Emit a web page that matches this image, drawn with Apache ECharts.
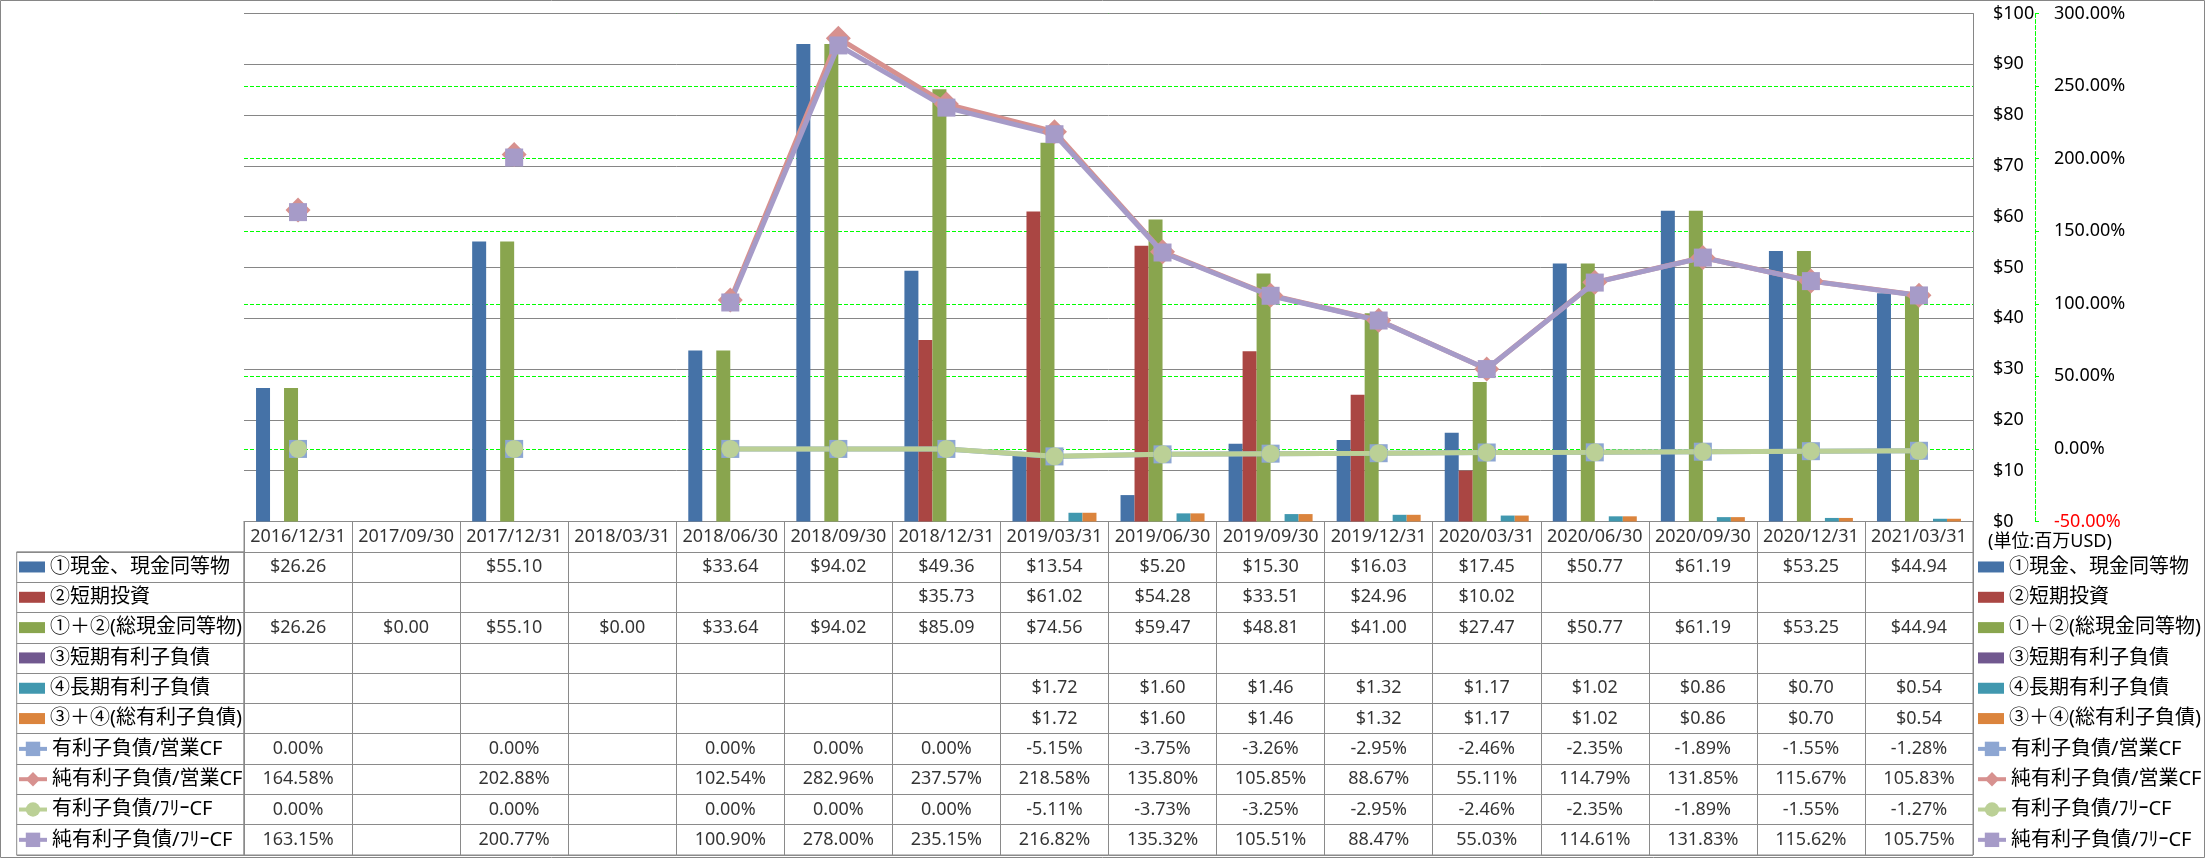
<!DOCTYPE html>
<html><head><meta charset="utf-8">
<script src="https://cdn.jsdelivr.net/npm/echarts@6/dist/echarts.min.js"></script>
<style>html,body{margin:0;padding:0;background:#fff}#c{width:2205px;height:858px}</style>
</head><body><div id="c"></div>
<script>
const categories = ['2016/12/31','2017/09/30','2017/12/31','2018/03/31','2018/06/30','2018/09/30','2018/12/31','2019/03/31','2019/06/30','2019/09/30','2019/12/31','2020/03/31','2020/06/30','2020/09/30','2020/12/31','2021/03/31'];
const cash       = [26.26, null, 55.10, null, 33.64, 94.02, 49.36, 13.54, 5.20, 15.30, 16.03, 17.45, 50.77, 61.19, 53.25, 44.94];
const shortInv   = [null, null, null, null, null, null, 35.73, 61.02, 54.28, 33.51, 24.96, 10.02, null, null, null, null];
const totalCash  = [26.26, 0, 55.10, 0, 33.64, 94.02, 85.09, 74.56, 59.47, 48.81, 41.00, 27.47, 50.77, 61.19, 53.25, 44.94];
const shortDebt  = [null, null, null, null, null, null, null, null, null, null, null, null, null, null, null, null];
const longDebt   = [null, null, null, null, null, null, null, 1.72, 1.60, 1.46, 1.32, 1.17, 1.02, 0.86, 0.70, 0.54];
const totalDebt  = [null, null, null, null, null, null, null, 1.72, 1.60, 1.46, 1.32, 1.17, 1.02, 0.86, 0.70, 0.54];
const debtOcf    = [0.00, null, 0.00, null, 0.00, 0.00, 0.00, -5.15, -3.75, -3.26, -2.95, -2.46, -2.35, -1.89, -1.55, -1.28];
const netDebtOcf = [164.58, null, 202.88, null, 102.54, 282.96, 237.57, 218.58, 135.80, 105.85, 88.67, 55.11, 114.79, 131.85, 115.67, 105.83];
const debtFcf    = [0.00, null, 0.00, null, 0.00, 0.00, 0.00, -5.11, -3.73, -3.25, -2.95, -2.46, -2.35, -1.89, -1.55, -1.27];
const netDebtFcf = [163.15, null, 200.77, null, 100.90, 278.00, 235.15, 216.82, 135.32, 105.51, 88.47, 55.03, 114.61, 131.83, 115.62, 105.75];

const barNames  = ['①現金、現金同等物','②短期投資','①＋②(総現金同等物)','③短期有利子負債','④長期有利子負債','③＋④(総有利子負債)'];
const lineNames = ['有利子負債/営業CF','純有利子負債/営業CF','有利子負債/ﾌﾘｰCF','純有利子負債/ﾌﾘｰCF'];
const unitLabel = '(単位:百万USD)';

const barData  = [cash, shortInv, totalCash, shortDebt, longDebt, totalDebt];
const lineData = [debtOcf, netDebtOcf, debtFcf, netDebtFcf];

const FONT = "'Noto Sans', 'Noto Sans CJK JP', sans-serif";
const barColors  = ['#4572A7','#AA4643','#89A54E','#71588F','#4198AF','#DB843D'];
const lineColors = ['#8DA6D2','#D7918F','#BBD096','#A69BC8'];
const lineSymbols = ['rect','diamond','circle','rect'];
const lineSymbolSizes = [18, 25, 18, 18];
const GRID = '#868686', TABLE = '#8A8A8A', DASH = '#00FF00';

const L = 244, W = 1729, TOP = 13.5, BOT = 521.5, TBOT = 855;
const rowH = (TBOT - BOT) / 11;

function cellText(ci, ri) {
  if (ri === 0) return categories[ci];
  const k = ri - 1;
  if (k < 6) { const v = barData[k][ci]; return v == null ? '' : '$' + v.toFixed(2); }
  const v = lineData[k - 6][ci]; return v == null ? '' : v.toFixed(2) + '%';
}
const cells = [];
for (let r = 0; r < 11; r++) for (let c = 0; c < categories.length; c++) if (cellText(c, r) !== '') cells.push([c, r]);

const series = [];
barNames.forEach((n, i) => series.push({
  type: 'bar', name: n, xAxisIndex: 0, yAxisIndex: 0, data: barData[i],
  barWidth: 14, barGap: '0%', itemStyle: { color: barColors[i] }, silent: true
}));
lineNames.forEach((n, i) => series.push({
  type: 'line', name: n, xAxisIndex: 0, yAxisIndex: 1, data: lineData[i],
  symbol: lineSymbols[i], symbolSize: lineSymbolSizes[i], showAllSymbol: true, connectNulls: false,
  lineStyle: { color: lineColors[i], width: 5 }, itemStyle: { color: lineColors[i] }, silent: true
}));
series.push({
  type: 'scatter', xAxisIndex: 1, yAxisIndex: 2, data: cells, symbolSize: 1, silent: true,
  itemStyle: { color: 'rgba(0,0,0,0)' },
  label: { show: true, position: 'inside', formatter: p => cellText(p.value[0], p.value[1]),
           fontSize: 18, color: '#000', fontFamily: FONT }
});

const hiddenCat = { axisLine: { show: false }, axisTick: { show: false }, axisLabel: { show: false } };
const firstCenter = BOT + rowH * 1.5;
const allNames = barNames.concat(lineNames);
const legends = [];
[[19, 17], [1978, 1976]].forEach(([leftBar, leftLine]) => {
  allNames.forEach((n, k) => {
    const isBar = k < 6;
    const lg = {
      data: [isBar ? { name: n, icon: 'rect' } : n],
      orient: 'vertical', left: isBar ? leftBar : leftLine, top: firstCenter + rowH * k - 10,
      itemWidth: isBar ? 26 : 28, itemHeight: isBar ? 11 : 18, padding: 0, selectedMode: false,
      itemGap: 3,
      textStyle: { fontSize: 20, lineHeight: 20, color: '#000', fontFamily: FONT }
    };
    if (!isBar) lg.lineStyle = { width: 4 };
    legends.push(lg);
  });
});

const option = {
  animation: false,
  backgroundColor: '#fff',
  grid: [
    { left: L, top: TOP, width: W, height: BOT - TOP, outerBoundsMode: 'none', containLabel: false },
    { left: L, top: BOT, width: W, height: TBOT - BOT, show: true, borderColor: TABLE, borderWidth: 1, backgroundColor: 'rgba(0,0,0,0)', outerBoundsMode: 'none' },
    { left: 16.7, top: BOT + rowH, width: L - 16.7, height: TBOT - BOT - rowH, show: true, borderColor: TABLE, borderWidth: 1, backgroundColor: 'rgba(0,0,0,0)', outerBoundsMode: 'none' }
  ],
  xAxis: [
    { gridIndex: 0, type: 'category', data: categories, z: 1,
      axisLine: { show: true, lineStyle: { color: TABLE, width: 1 } }, axisTick: { show: false }, axisLabel: { show: false }, splitLine: { show: false } },
    Object.assign({ gridIndex: 1, type: 'category', data: categories,
      splitLine: { show: true, interval: 0, lineStyle: { color: TABLE, width: 1 } } }, hiddenCat),
    { gridIndex: 2, type: 'value', show: false, min: 0, max: 1 }
  ],
  yAxis: [
    { gridIndex: 0, type: 'value', position: 'right', min: 0, max: 100, interval: 10, z: 1,
      axisLine: { show: true, lineStyle: { color: GRID, width: 1 } }, axisTick: { show: false },
      axisLabel: { margin: 20, formatter: v => '$' + v, fontSize: 18, color: '#000', fontFamily: FONT, showMinLabel: true, showMaxLabel: true },
      splitLine: { show: true, lineStyle: { color: GRID, width: 1 } } },
    { gridIndex: 0, type: 'value', position: 'right', offset: 62, min: -50, max: 300, interval: 50, z: 0,
      axisLine: { show: true, lineStyle: { color: DASH, width: 1, type: [4, 2] } },
      axisTick: { show: true, length: 4, lineStyle: { color: DASH, width: 1 } },
      axisLabel: { margin: 19, formatter: v => Number(v).toFixed(2) + '%', fontSize: 18, fontFamily: FONT,
        color: v => (Math.abs(Number(v) + 50) < 1e-6 ? '#FF0000' : '#000'), showMinLabel: true, showMaxLabel: true },
      splitLine: { show: true, lineStyle: { color: DASH, width: 1, type: [4, 2] } } },
    Object.assign({ gridIndex: 1, type: 'category', inverse: true, data: ['h','r1','r2','r3','r4','r5','r6','r7','r8','r9','r10'],
      splitLine: { show: true, interval: 0, lineStyle: { color: TABLE, width: 1 } } }, hiddenCat),
    Object.assign({ gridIndex: 2, type: 'category', inverse: true, data: ['r1','r2','r3','r4','r5','r6','r7','r8','r9','r10'],
      splitLine: { show: true, interval: 0, lineStyle: { color: TABLE, width: 1 } } }, hiddenCat)
  ],
  legend: legends,
  graphic: [
    { type: 'rect', silent: true, z: -10, shape: { x: 0.5, y: 0.5, width: 2204, height: 857 },
      style: { fill: 'none', stroke: GRID, lineWidth: 1 } },
    { type: 'text', silent: true, x: 1988, y: 541.7,
      style: { text: unitLabel, font: '18px ' + FONT, fill: '#000', verticalAlign: 'middle', align: 'left' } }
  ],
  series: series
};
const chart = echarts.init(document.getElementById('c'), null, { renderer: 'canvas' });
chart.setOption(option);
</script></body></html>
